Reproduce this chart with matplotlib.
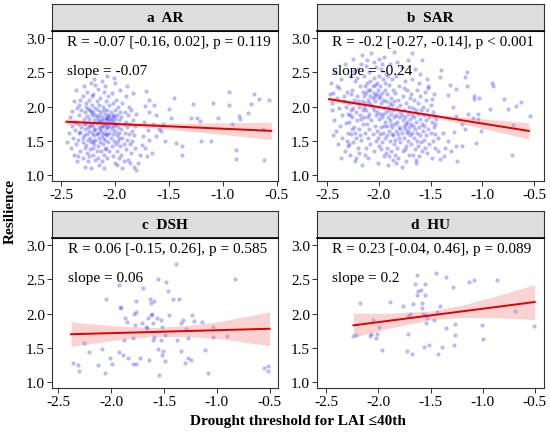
import matplotlib
matplotlib.use("Agg")
import matplotlib.pyplot as plt

plt.rcParams['font.family'] = ['Liberation Serif', 'DejaVu Serif']

# ---- data ----
panel_titles = ['a  AR', 'b  SAR', 'c  DSH', 'd  HU']
r_texts = ['R = -0.07 [-0.16, 0.02], p = 0.119',
           'R = -0.2 [-0.27, -0.14], p < 0.001',
           'R = 0.06 [-0.15, 0.26], p = 0.585',
           'R = 0.23 [-0.04, 0.46], p = 0.089']
slope_texts = ['slope = -0.07', 'slope = -0.24', 'slope = 0.06', 'slope = 0.2']
yticks = [1.0, 1.5, 2.0, 2.5, 3.0]
xticks = [-2.5, -2.0, -1.5, -1.0, -0.5]

# panel a (AR)
a_pts = [
    (-2.44,1.48),(-2.43,1.62),(-2.42,1.85),(-2.41,1.40),(-2.40,1.93),(-2.40,1.72),(-2.39,1.55),(-2.38,2.09),
    (-2.38,1.30),(-2.37,1.78),(-2.37,1.66),(-2.36,2.25),(-2.36,1.45),(-2.35,1.98),(-2.35,1.20),
    (-2.34,1.75),(-2.34,1.52),(-2.33,1.88),(-2.33,2.02),(-2.32,1.36),(-2.32,1.63),(-2.31,1.95),(-2.31,1.70),
    (-2.30,2.15),(-2.30,1.48),(-2.30,1.25),(-2.29,1.82),(-2.29,1.58),(-2.29,2.30),(-2.28,1.12),(-2.28,1.68),
    (-2.28,1.92),(-2.27,1.44),(-2.27,2.05),(-2.27,1.76),(-2.26,1.60),(-2.26,1.33),(-2.26,2.22),(-2.26,1.86),
    (-2.25,1.52),(-2.25,1.97),(-2.25,1.70),(-2.25,1.20),(-2.34,1.28),(-2.32,2.10),(-2.30,1.55),(-2.28,1.40),
    (-2.27,1.99),(-2.33,1.62),(-2.29,1.74),
    (-2.24,1.82),(-2.24,1.65),(-2.24,2.10),(-2.23,1.38),(-2.23,1.95),(-2.23,1.55),(-2.22,1.75),(-2.22,2.35),
    (-2.22,1.48),(-2.22,1.10),(-2.21,1.88),(-2.21,1.62),(-2.21,2.02),(-2.20,1.30),(-2.20,1.72),(-2.20,1.92),
    (-2.20,2.18),(-2.19,1.58),(-2.19,1.45),(-2.19,1.80),(-2.19,2.40),(-2.18,1.68),(-2.18,1.22),(-2.18,1.98),
    (-2.18,1.52),(-2.17,1.85),(-2.17,2.08),(-2.17,1.35),(-2.17,1.76),(-2.16,1.62),(-2.16,1.95),(-2.16,2.26),
    (-2.16,1.42),(-2.15,1.70),(-2.15,1.88),(-2.15,1.15),(-2.15,1.55),(-2.24,1.28),(-2.23,1.72),(-2.21,2.15),
    (-2.20,1.50),(-2.19,1.66),(-2.18,1.88),(-2.17,1.60),(-2.16,1.80),(-2.22,1.92),(-2.20,1.40),(-2.18,2.32),
    (-2.16,1.25),(-2.15,2.02),
    (-2.14,1.78),(-2.14,1.48),(-2.14,2.12),(-2.13,1.65),(-2.13,1.92),(-2.13,1.35),(-2.12,1.85),(-2.12,1.58),
    (-2.12,2.38),(-2.12,1.20),(-2.11,1.72),(-2.11,2.00),(-2.11,1.45),(-2.10,1.80),(-2.10,1.62),(-2.10,2.22),
    (-2.10,1.30),(-2.09,1.90),(-2.09,1.52),(-2.09,1.75),(-2.08,2.08),(-2.08,1.68),(-2.08,1.40),(-2.08,1.84),
    (-2.07,1.58),(-2.07,1.95),(-2.07,1.25),(-2.07,2.45),(-2.06,1.82),(-2.06,1.70),(-2.06,1.48),(-2.06,2.15),
    (-2.05,1.86),(-2.05,1.78),(-2.05,1.62),(-2.05,1.35),(-2.14,1.68),(-2.13,1.80),(-2.11,1.55),(-2.10,1.95),
    (-2.09,1.38),(-2.08,1.76),(-2.07,1.84),(-2.06,1.88),(-2.12,1.72),(-2.10,1.10),(-2.09,2.30),(-2.08,1.60),
    (-2.07,1.72),(-2.05,2.02),
    (-2.04,1.80),(-2.04,1.55),(-2.04,1.92),(-2.03,1.84),(-2.03,1.68),(-2.03,1.42),(-2.03,2.20),(-2.02,1.78),
    (-2.02,1.60),(-2.02,2.05),(-2.02,1.28),(-2.01,1.86),(-2.01,1.72),(-2.01,1.50),(-2.00,1.82),(-2.00,1.95),
    (-2.00,1.65),(-2.00,1.18),(-2.00,2.35),(-1.99,1.75),(-1.99,1.45),(-1.99,2.10),(-1.98,1.88),(-1.98,1.58),
    (-1.98,1.35),(-1.97,1.70),(-1.97,2.00),(-1.97,1.50),(-1.96,1.80),(-1.96,1.62),(-1.96,1.25),(-1.95,1.92),
    (-1.95,1.42),(-1.95,2.25),(-2.04,1.72),(-2.02,1.88),(-2.00,1.75),(-1.98,1.15),(-1.96,1.55),(-2.01,2.42),
    (-1.94,1.68),(-1.94,1.85),(-1.94,1.30),(-1.93,1.55),(-1.93,2.05),(-1.92,1.75),(-1.92,1.45),(-1.92,1.20),
    (-1.91,1.92),(-1.91,1.62),(-1.90,1.78),(-1.90,2.15),(-1.90,1.38),(-1.89,1.52),(-1.89,1.70),(-1.88,1.88),
    (-1.88,1.22),(-1.87,1.60),(-1.87,2.00),(-1.86,1.45),(-1.86,1.75),(-1.85,1.32),(-1.85,1.95),(-1.84,1.65),
    (-1.84,1.50),(-1.83,2.20),(-1.83,1.80),(-1.82,1.12),(-1.82,1.58),(-1.81,1.40),(-1.81,1.72),(-1.80,1.90),
    (-1.93,1.10),(-1.89,2.30),(-1.86,1.18),
    (-1.71,2.23),(-1.68,2.10),(-1.68,1.92),(-1.72,2.01),(-1.64,2.02),(-1.62,1.88),(-1.65,1.74),(-1.73,1.77),
    (-1.69,1.66),(-1.74,1.57),(-1.75,1.44),(-1.72,1.39),(-1.68,1.52),(-1.66,1.33),(-1.70,1.28),(-1.79,1.18),
    (-1.80,1.07),(-1.77,1.30),(-1.62,1.57),(-1.59,1.68),(-1.57,1.65),(-1.55,1.74),(-1.54,1.50),(-1.48,1.84),
    (-1.43,1.47),(-1.38,1.43),(-1.38,1.30),(-1.45,2.12),(-1.50,1.97),(-1.29,1.84),(-1.24,1.84),(-1.21,1.79),
    (-1.28,2.04),(-1.20,1.50),(-1.11,1.50),(-1.09,2.05),(-1.04,1.83),(-0.94,2.21),(-0.94,2.02),(-0.85,1.87),
    (-0.84,1.82),(-0.91,1.74),(-0.88,1.37),(-0.88,1.23),(-0.77,1.91),(-0.74,2.04),(-0.66,2.11),(-0.63,1.67),
    (-0.71,2.18),(-0.62,1.22),(-0.57,2.10),
]
a_fit_x = [-2.45, -0.55]
a_fit_y = [1.78, 1.647]
a_band_x = [-2.45, -2.25, -2.05, -1.85, -1.5, -1.0, -0.55]
a_band_lo = [1.735, 1.736, 1.730, 1.712, 1.669, 1.594, 1.522]
a_band_hi = [1.825, 1.796, 1.774, 1.764, 1.759, 1.764, 1.772]

# panel b (SAR)
b_pts = [
    (-1.17,2.44),(-1.15,2.30),(-1.08,2.15),(-1.08,2.11),(-1.03,2.13),(-0.91,2.35),(-0.90,2.30),(-0.63,2.07),
    (-0.54,1.87),(-0.75,1.96),(-0.70,1.73),(-0.71,1.29),(-0.93,1.96),(-1.04,1.90),(-1.14,1.89),(-1.20,1.74),
    (-1.17,1.67),(-1.09,1.84),(-1.25,1.87),(-1.28,2.00),(-1.25,2.26),(-1.33,2.17),(-1.31,2.32),(-1.40,2.54),
    (-1.41,2.44),(-1.27,1.63),(-1.33,1.50),(-1.25,1.43),(-1.30,1.35),(-1.36,1.40),(-1.37,1.28),(-1.38,1.62),
    (-1.43,1.55),(-1.43,1.35),(-1.41,1.23),(-1.46,1.74),(-1.49,2.11),(-1.52,2.28),(-1.53,2.40),(-1.47,1.87),
    (-1.01,1.65),(-1.06,1.47),(-1.20,1.43),(-1.24,1.21),(-1.15,2.50),(-1.04,1.82),(-0.79,2.11),(-0.67,2.01),
    (-2.47,2.18),(-2.46,2.35),(-2.45,1.95),(-2.45,2.05),(-2.44,2.20),(-2.43,1.80),(-2.42,2.50),(-2.41,1.65),
    (-2.40,2.12),(-2.39,1.45),(-2.38,1.98),(-2.38,2.28),(-2.37,1.72),(-2.36,2.40),(-2.35,1.55),(-2.35,1.88),
    (-2.34,2.08),(-2.33,1.35),(-2.33,2.62),(-2.32,1.76),(-2.32,2.00),(-2.31,1.50),(-2.31,2.22),(-2.30,1.90),
    (-2.30,1.62),(-2.44,1.58),(-2.40,2.30),(-2.36,1.25),(-2.34,2.15),(-2.30,1.42),
    (-2.29,2.05),(-2.29,1.78),(-2.28,2.45),(-2.28,1.30),(-2.27,1.95),(-2.27,1.60),(-2.26,2.25),(-2.26,1.85),
    (-2.25,1.48),(-2.25,2.70),(-2.24,2.10),(-2.24,1.70),(-2.23,1.20),(-2.23,2.38),(-2.22,1.92),(-2.22,1.55),
    (-2.21,2.15),(-2.21,1.80),(-2.20,2.55),(-2.20,1.40),(-2.19,2.00),(-2.19,1.68),(-2.18,2.30),(-2.18,1.88),
    (-2.17,1.52),(-2.17,2.62),(-2.16,1.15),(-2.16,2.08),(-2.15,1.75),(-2.15,1.95),(-2.29,1.45),(-2.27,2.18),
    (-2.25,1.98),(-2.23,1.62),(-2.21,2.42),(-2.19,1.32),(-2.17,1.82),(-2.15,2.22),(-2.28,1.88),(-2.26,1.68),
    (-2.24,2.52),(-2.22,1.25),(-2.20,2.08),(-2.18,1.58),(-2.16,2.75),
    (-2.14,2.15),(-2.14,1.85),(-2.14,2.45),(-2.13,1.62),(-2.13,2.30),(-2.13,2.05),(-2.12,1.40),(-2.12,2.20),
    (-2.12,1.95),(-2.11,2.68),(-2.11,1.75),(-2.11,2.35),(-2.10,2.10),(-2.10,1.55),(-2.10,1.25),(-2.10,2.25),
    (-2.09,1.90),(-2.09,2.50),(-2.09,1.68),(-2.08,2.15),(-2.08,2.38),(-2.08,1.45),(-2.07,2.02),(-2.07,1.80),
    (-2.07,2.78),(-2.06,2.30),(-2.06,1.60),(-2.06,2.12),(-2.05,1.95),(-2.05,2.42),(-2.05,1.35),(-2.05,2.20),
    (-2.04,1.72),(-2.04,2.32),(-2.04,2.08),(-2.03,1.88),(-2.03,2.58),(-2.03,1.50),(-2.02,2.18),(-2.02,2.35),
    (-2.02,1.65),(-2.01,2.00),(-2.01,2.25),(-2.01,1.18),(-2.00,2.12),(-2.00,1.82),(-2.00,2.45),(-2.00,1.42),
    (-2.14,2.00),(-2.12,2.60),(-2.10,1.85),(-2.08,2.25),(-2.06,2.00),(-2.04,2.15),(-2.02,1.92),(-2.00,2.70),
    (-2.13,1.30),(-2.09,2.05),(-2.05,2.65),(-2.01,1.55),
    (-1.99,2.15),(-1.99,1.90),(-1.99,2.30),(-1.98,1.70),(-1.98,2.05),(-1.98,2.55),(-1.97,1.48),(-1.97,2.20),
    (-1.97,1.85),(-1.96,2.40),(-1.96,1.62),(-1.96,2.10),(-1.95,1.28),(-1.95,1.98),(-1.95,2.72),(-1.94,2.25),
    (-1.94,1.78),(-1.94,1.55),(-1.93,2.08),(-1.93,1.92),(-1.93,2.48),(-1.92,1.40),(-1.92,1.72),(-1.92,2.18),
    (-1.91,2.00),(-1.91,1.85),(-1.91,1.15),(-1.90,2.32),(-1.90,1.65),(-1.90,1.95),(-1.89,2.62),(-1.89,1.50),
    (-1.89,1.80),(-1.88,2.12),(-1.88,1.35),(-1.88,1.90),(-1.87,2.40),(-1.87,1.70),(-1.87,2.02),(-1.86,1.58),
    (-1.86,1.22),(-1.86,2.25),(-1.85,1.85),(-1.85,1.45),(-1.85,2.08),(-1.99,1.60),(-1.97,2.62),(-1.95,1.72),
    (-1.93,1.32),(-1.91,2.45),(-1.89,2.05),(-1.87,1.60),(-1.85,2.80),(-1.98,1.38),(-1.96,1.90),(-1.94,2.35),
    (-1.92,1.58),(-1.90,1.28),(-1.88,1.75),(-1.86,1.95),
    (-1.84,1.75),(-1.84,2.20),(-1.84,1.52),(-1.83,1.88),(-1.83,1.65),(-1.83,2.45),(-1.82,1.40),(-1.82,1.98),
    (-1.82,1.78),(-1.81,2.10),(-1.81,1.60),(-1.81,1.25),(-1.80,1.85),(-1.80,2.30),(-1.80,1.70),(-1.79,1.48),
    (-1.79,2.02),(-1.79,1.92),(-1.78,1.62),(-1.78,2.58),(-1.78,1.12),(-1.77,1.80),(-1.77,1.35),(-1.77,2.15),
    (-1.76,1.72),(-1.76,1.95),(-1.76,1.55),(-1.75,2.38),(-1.75,1.68),(-1.75,1.85),(-1.74,1.42),(-1.74,2.05),
    (-1.74,1.20),(-1.73,1.78),(-1.73,1.62),(-1.73,2.25),(-1.72,1.90),(-1.72,1.50),(-1.72,2.68),(-1.71,1.70),
    (-1.71,1.30),(-1.71,2.00),(-1.70,1.82),(-1.70,1.58),(-1.84,1.30),(-1.82,2.65),(-1.80,1.55),(-1.78,1.88),
    (-1.76,2.28),(-1.74,1.75),(-1.72,1.65),(-1.70,2.12),(-1.83,1.18),(-1.79,1.68),(-1.75,1.38),
    (-1.69,1.75),(-1.69,2.18),(-1.69,1.45),(-1.68,1.88),(-1.68,1.62),(-1.68,2.40),(-1.67,1.30),(-1.67,1.98),
    (-1.67,1.72),(-1.66,2.10),(-1.66,1.55),(-1.66,1.85),(-1.65,2.55),(-1.65,1.38),(-1.65,1.68),(-1.64,1.95),
    (-1.64,1.78),(-1.64,1.18),(-1.63,2.25),(-1.63,1.50),(-1.63,1.62),(-1.62,1.90),(-1.62,2.05),(-1.62,1.42),
    (-1.61,1.70),(-1.61,2.35),(-1.61,1.28),(-1.60,1.82),(-1.60,1.58),(-1.60,2.15),(-1.59,1.48),(-1.59,1.95),
    (-1.58,1.75),(-1.58,2.68),(-1.58,1.35),(-1.57,1.65),(-1.57,2.00),(-1.56,1.52),(-1.56,1.88),(-1.55,2.22),
    (-1.55,1.40),(-1.68,2.78),(-1.64,1.22),(-1.60,2.48),(-1.56,1.72),
    (-1.54,1.80),(-1.54,1.58),(-1.54,2.10),(-1.53,1.32),(-1.53,1.95),(-1.52,1.68),(-1.52,2.30),(-1.51,1.45),
    (-1.51,1.85),(-1.50,2.02),(-1.50,1.62),(-1.49,1.25),(-1.49,1.78),(-1.48,1.92),(-1.48,1.50),(-1.47,2.18),
    (-1.47,1.70),(-1.46,1.40),(-1.46,1.60),(-1.45,1.82),
]
b_fit_x = [-2.48, -0.55]
b_fit_y = [2.11, 1.646]
b_band_x = [-2.48, -2.2, -1.9, -1.7, -1.4, -1.0, -0.55]
b_band_lo = [2.07, 2.018, 1.953, 1.902, 1.82, 1.684, 1.526]
b_band_hi = [2.15, 2.068, 1.987, 1.942, 1.88, 1.824, 1.766]

# panel c (DSH)
c_pts = [
    (-2.36,1.28),(-2.31,1.25),(-2.30,1.16),(-2.26,1.57),(-2.21,1.44),(-2.12,1.25),(-2.09,1.48),(-2.06,1.13),
    (-2.05,2.22),(-2.01,1.35),(-1.99,1.27),(-1.93,2.42),(-1.92,2.10),(-1.91,2.09),(-1.93,1.44),(-1.89,1.40),
    (-1.88,1.62),(-1.87,1.94),(-1.85,1.88),(-1.84,1.36),(-1.79,1.27),(-1.78,2.00),(-1.76,2.02),(-1.76,2.18),
    (-1.76,1.27),(-1.79,1.64),(-1.77,1.83),(-1.73,1.36),(-1.71,1.86),(-1.70,2.37),(-1.67,1.80),(-1.66,1.79),
    (-1.65,1.93),(-1.64,1.33),(-1.63,2.22),(-1.62,2.16),(-1.62,1.98),(-1.61,2.00),(-1.60,1.86),(-1.60,1.62),
    (-1.59,1.66),(-1.59,2.19),(-1.57,1.93),(-1.56,2.51),(-1.56,1.48),(-1.55,1.11),(-1.53,1.62),(-1.53,1.91),
    (-1.52,1.80),(-1.51,1.46),(-1.52,1.40),(-1.49,1.31),(-1.49,1.69),(-1.48,2.46),(-1.46,2.33),(-1.45,1.98),
    (-1.41,2.21),(-1.39,2.72),(-1.36,2.21),(-1.38,1.61),(-1.34,1.46),(-1.34,1.87),(-1.32,1.91),(-1.29,1.77),
    (-1.27,1.64),(-1.27,1.36),(-1.24,1.33),(-1.23,1.98),(-1.22,1.90),(-1.30,1.28),(-1.14,1.88),(-1.11,1.47),
    (-1.08,1.13),(-1.04,1.81),(-1.04,1.66),(-0.90,1.67),(-0.83,2.50),(-0.55,1.20),(-0.51,1.23),(-0.51,1.16),
]
c_fit_x = [-2.38, -0.5]
c_fit_y = [1.70, 1.78]
c_band_x = [-2.38, -2.0, -1.6, -1.3, -1.0, -0.5]
c_band_lo = [1.52, 1.606, 1.668, 1.666, 1.638, 1.535]
c_band_hi = [1.88, 1.826, 1.798, 1.826, 1.878, 2.025]

# panel d (HU)
d_pts = [
    (-2.24,1.67),(-2.22,1.69),(-2.18,2.16),(-2.08,1.67),(-2.07,1.70),(-2.05,1.91),(-2.02,1.64),(-2.01,1.71),
    (-1.99,1.81),(-1.97,1.47),(-1.89,2.17),(-1.76,2.11),(-1.73,1.45),(-1.72,1.70),(-1.72,1.97),(-1.70,2.00),
    (-1.68,1.41),(-1.67,2.14),(-1.65,2.43),(-1.63,2.56),(-1.63,2.27),(-1.62,2.33),(-1.59,2.35),(-1.58,2.16),
    (-1.58,2.08),(-1.57,2.00),(-1.56,1.51),(-1.55,2.44),(-1.55,2.27),(-1.54,1.98),(-1.54,1.87),(-1.53,1.93),
    (-1.51,1.55),(-1.47,1.91),(-1.45,2.60),(-1.44,2.03),(-1.43,1.41),(-1.41,2.11),(-1.39,1.51),(-1.35,2.53),
    (-1.35,1.79),(-1.28,2.39),(-1.27,1.54),(-1.26,1.69),(-1.26,1.85),(-1.13,2.46),(-1.08,2.49),(-1.01,1.83),
    (-1.00,1.63),(-0.86,2.49),(-0.69,2.04),(-0.51,1.82),
]
d_fit_x = [-2.24, -0.5]
d_fit_y = [1.83, 2.17]
d_band_x = [-2.24, -1.9, -1.5, -1.2, -0.9, -0.5]
d_band_lo = [1.655, 1.787, 1.91, 1.944, 1.942, 1.915]
d_band_hi = [2.005, 2.007, 2.04, 2.124, 2.242, 2.425]

# ---- layout (pixel boxes: left, top, right, bottom) ----
W, H = 550, 435
fig = plt.figure(figsize=(W / 100, H / 100), dpi=100)

def px_axes(l, t, r, b, **kw):
    return fig.add_axes([l / W, 1 - b / H, (r - l) / W, (b - t) / H], **kw)

boxes = [(52, 32, 278, 182), (317, 32, 544, 182), (52, 239, 278, 389), (317, 239, 544, 389)]
strip_h = 27
xlims = [(-2.583, -0.488), (-2.596, -0.404), (-2.56, -0.42), (-2.59, -0.41)]
text_x = [-2.44, -2.45, -2.41, -2.45]

data = [
    (a_pts, a_fit_x, a_fit_y, a_band_x, a_band_lo, a_band_hi),
    (b_pts, b_fit_x, b_fit_y, b_band_x, b_band_lo, b_band_hi),
    (c_pts, c_fit_x, c_fit_y, c_band_x, c_band_lo, c_band_hi),
    (d_pts, d_fit_x, d_fit_y, d_band_x, d_band_lo, d_band_hi),
]

edge = '#333333'
for i, (pts, fx, fy, bx, blo, bhi) in enumerate(data):
    l, t, r, b = boxes[i]
    ax = px_axes(l, t, r, b)
    xs = [p[0] for p in pts]
    ys = [p[1] for p in pts]
    ax.scatter(xs, ys, s=9, color='#0000FF', alpha=0.28, linewidths=0, zorder=1)
    ax.fill_between(bx, blo, bhi, color='#F08080', alpha=0.35, linewidth=0, zorder=2)
    ax.plot(fx, fy, color='#E00000', linewidth=1.4, zorder=3)

    ax.set_xlim(*xlims[i])
    ax.set_ylim(0.915, 3.105)
    ax.set_xticks(xticks)
    ax.set_xticklabels(['%.1f' % v for v in xticks])
    ax.set_yticks(yticks)
    ax.set_yticklabels(['%.1f' % v for v in yticks])
    ax.tick_params(direction='out', length=3.5, width=0.7, color=edge,
                   labelsize=11, pad=1.5, labelcolor='black')
    for s in ax.spines.values():
        s.set_color(edge)
        s.set_linewidth(0.8)

    ax.text(text_x[i], 2.95, r_texts[i], fontsize=11, ha='left', va='center')
    ax.text(text_x[i], 2.53, slope_texts[i], fontsize=11, ha='left', va='center')

    st = px_axes(l, t - strip_h, r, t)
    st.set_facecolor('#DEDEDE')
    st.set_xticks([])
    st.set_yticks([])
    for s in st.spines.values():
        s.set_color(edge)
        s.set_linewidth(0.8)
    st.spines['bottom'].set_color('black')
    st.spines['bottom'].set_linewidth(1.2)
    st.text(0.5, 0.5, panel_titles[i], transform=st.transAxes, fontsize=11,
            fontweight='bold', ha='center', va='center')

fig.text(10 / W, 1 - 212 / H, 'Resilience', rotation=90, fontsize=11,
         fontweight='bold', ha='center', va='center')
fig.text(298 / W, 1 - 422 / H, 'Drought threshold for LAI \u226440th', fontsize=11,
         fontweight='bold', ha='center', va='center')

fig.savefig('out.png', dpi=100)
